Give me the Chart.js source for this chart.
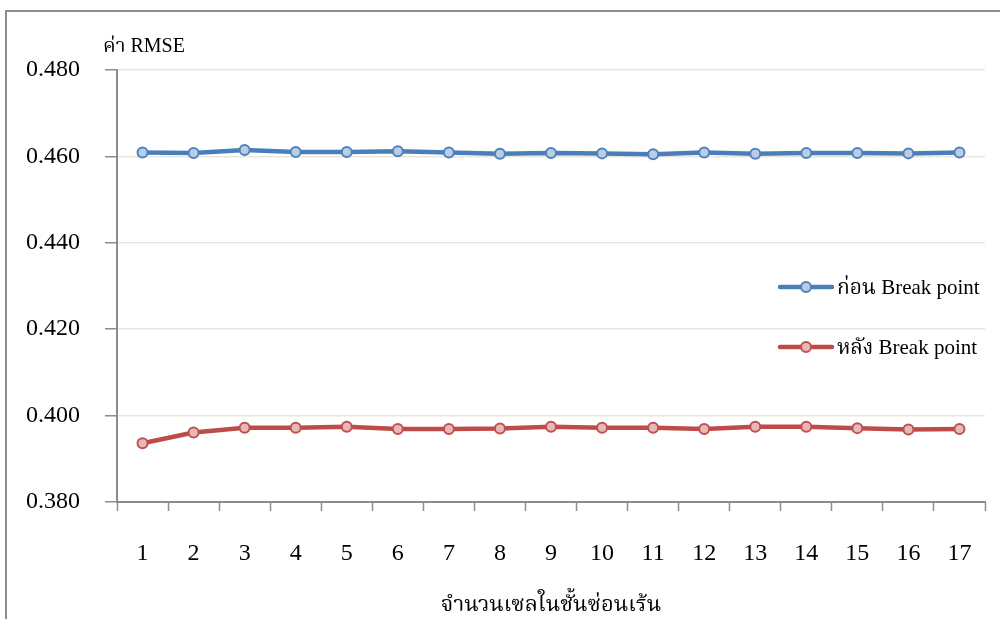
<!DOCTYPE html>
<html>
<head>
<meta charset="utf-8">
<script src="https://cdn.jsdelivr.net/npm/chart.js@4.4.0/dist/chart.umd.min.js"></script>
<style>
  html, body { margin: 0; padding: 0; background: #fff; overflow: hidden; }
  #frame { position: absolute; left: 5px; top: 10px; width: 1010px; height: 630px;
           border: 2px solid #8c8c8c; box-sizing: border-box; }
  #wrap { position: absolute; left: 0; top: 0; width: 1000px; height: 619px; }
</style>
</head>
<body>
<div id="frame"></div>
<div id="wrap"><canvas id="c" width="1000" height="619"></canvas></div>
<script>
// Hidden-layer cell counts
const categories = ['1','2','3','4','5','6','7','8','9','10','11','12','13','14','15','16','17'];
// RMSE before the break point
const beforeBreak = [0.4609, 0.4608, 0.4615, 0.4610, 0.4610, 0.4612, 0.4609, 0.4606, 0.4608,
                     0.4607, 0.4605, 0.4609, 0.4606, 0.4608, 0.4608, 0.4607, 0.4609];
// RMSE after the break point
const afterBreak = [0.3936, 0.3961, 0.3972, 0.3972, 0.3974, 0.3969, 0.3969, 0.3970, 0.3974,
                    0.3972, 0.3972, 0.3969, 0.3974, 0.3974, 0.3971, 0.3968, 0.3969];
const seriesNames = ['ก่อน Break point', 'หลัง Break point'];
const yTitle = 'ค่า RMSE';
const xTitle = 'จำนวนเซลในชั้นซ่อนเร้น';

const SERIF = '"Liberation Serif", "Times New Roman", "Noto Serif Thai", "Noto Sans Thai", serif';
const AXIS_GREY = '#8c8c8c';

// Legend drawn inside the plot area, plus the y-axis caption above the axis
const overlay = {
  id: 'overlay',
  afterDraw(chart) {
    const ctx = chart.ctx;
    ctx.save();
    ctx.fillStyle = '#000';
    ctx.font = '20px ' + SERIF;
    ctx.textAlign = 'left';
    ctx.textBaseline = 'middle';
    ctx.fillText(yTitle, 103, 47);

    ctx.font = '21px ' + SERIF;
    const rows = [287, 347];
    chart.data.datasets.forEach((ds, i) => {
      const y = rows[i];
      ctx.strokeStyle = ds.borderColor;
      ctx.lineWidth = ds.borderWidth;
      ctx.lineCap = 'round';
      ctx.beginPath();
      ctx.moveTo(780, y);
      ctx.lineTo(832, y);
      ctx.stroke();
      ctx.beginPath();
      ctx.arc(806, y, ds.pointRadius, 0, Math.PI * 2);
      ctx.fillStyle = ds.pointBackgroundColor;
      ctx.fill();
      ctx.lineWidth = ds.pointBorderWidth;
      ctx.strokeStyle = ds.pointBorderColor;
      ctx.stroke();
      ctx.fillStyle = '#000';
      ctx.fillText(ds.label, 837, y + 1);
    });
    ctx.restore();
  }
};

new Chart(document.getElementById('c'), {
  type: 'line',
  data: {
    labels: categories,
    datasets: [
      {
        label: seriesNames[0],
        data: beforeBreak,
        borderColor: '#4a7ebb',
        borderWidth: 4.5,
        pointRadius: 5,
        pointBorderWidth: 2,
        pointBackgroundColor: '#b9cde5',
        pointBorderColor: '#4f81bd',
        tension: 0
      },
      {
        label: seriesNames[1],
        data: afterBreak,
        borderColor: '#be4b48',
        borderWidth: 4.5,
        pointRadius: 5,
        pointBorderWidth: 2,
        pointBackgroundColor: '#e6b9b8',
        pointBorderColor: '#c0504d',
        tension: 0
      }
    ]
  },
  options: {
    responsive: false,
    animation: false,
    devicePixelRatio: 1,
    layout: { padding: { left: 0, right: 15, top: 70, bottom: 0 } },
    plugins: {
      legend: { display: false },
      tooltip: { enabled: false }
    },
    scales: {
      x: {
        type: 'category',
        offset: true,
        grid: {
          offset: true,
          drawOnChartArea: false,
          drawTicks: true,
          tickLength: 9,
          tickColor: AXIS_GREY,
          tickWidth: 1.5
        },
        border: { color: AXIS_GREY, width: 2 },
        ticks: {
          color: '#000',
          font: { family: SERIF, size: 24 },
          padding: 28,
          maxRotation: 0,
          autoSkip: false
        },
        title: {
          display: true,
          text: xTitle,
          color: '#000',
          font: { family: SERIF, size: 22 },
          padding: { top: 0, bottom: 1 }
        },
        afterFit(scale) { scale.height = 117; }
      },
      y: {
        min: 0.38,
        max: 0.48,
        grid: {
          color: '#e9e7da',
          lineWidth: 1.5,
          drawTicks: true,
          tickLength: 12,
          tickColor: AXIS_GREY,
          tickWidth: 1.5
        },
        border: { color: AXIS_GREY, width: 2 },
        ticks: {
          stepSize: 0.02,
          color: '#000',
          font: { family: SERIF, size: 24 },
          padding: 25,
          callback: v => v.toFixed(3)
        },
        afterFit(scale) { scale.width = 117; }
      }
    }
  },
  plugins: [overlay]
});
</script>
</body>
</html>
